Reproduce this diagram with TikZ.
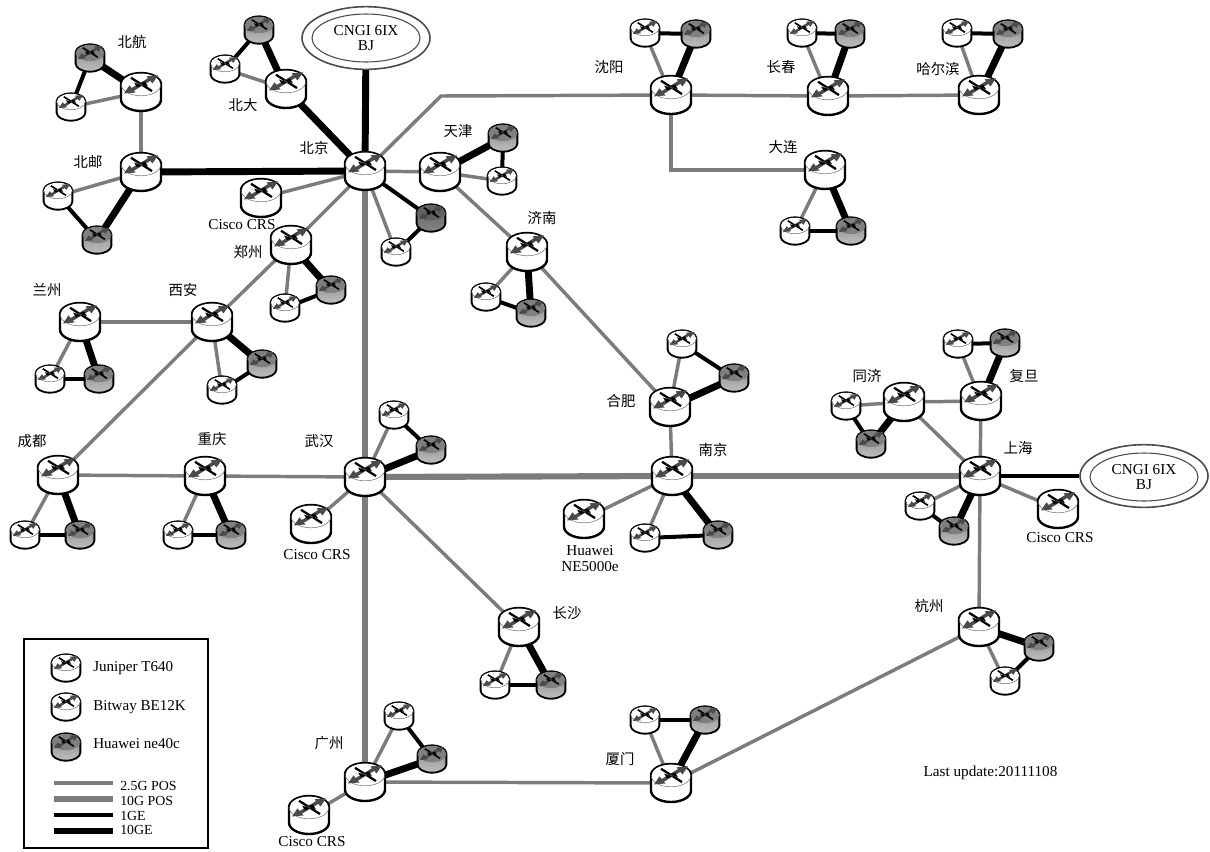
\documentclass[tikz,border=0pt]{standalone}
\usepackage{fontspec}
\setmainfont{Liberation Serif}
\newfontfamily\cjk{Noto Sans CJK SC}
\usetikzlibrary{arrows.meta,backgrounds,shapes.geometric}
\definecolor{linegray}{HTML}{7C7C7C}
\definecolor{arrowdark}{HTML}{4A4A4A}
\tikzset{
  pos25/.style={draw=linegray,line width=2.6pt},
  pos10/.style={draw=linegray,line width=4.6pt},
  ge1/.style={draw=black,line width=3pt},
  ge10/.style={draw=black,line width=5.2pt},
  lab/.style={inner sep=0pt,font=\cjk\fontsize{10.8}{13}\selectfont},
  eng/.style={inner sep=0pt,align=center,font=\fontsize{11.4}{12}\selectfont},
  leg/.style={inner sep=0pt,anchor=west,font=\fontsize{11.3}{12}\selectfont},
  legb/.style={inner sep=0pt,anchor=west,font=\fontsize{10.4}{11}\selectfont},
  outerell/.style={ellipse,draw=black!70,line width=1.2pt,fill=white,inner sep=0pt},
  innerell/.style={ellipse,draw=black!70,line width=.8pt,inner sep=0pt,minimum width=81pt,minimum height=36pt,font=\fontsize{11.4}{11.5}\selectfont,align=center},
}
% name x y scale topcolor bodytop bodybottom
\newcommand{\rtr}[7]{%
  \pgfmathsetmacro{\rs}{#4}%
  \pgfmathsetmacro{\rd}{27.5*\rs}%
  \pgfmathsetmacro{\rsy}{#4*0.95}%
  \node[circle,inner sep=0pt,minimum size=\rd pt] (#1) at (#2,#3) {};
  \begin{scope}[shift={(#2,#3)},xscale=#4,yscale=\rsy]
    \path[draw=black,line width=\rs*1.5pt+.3pt,top color=#6,bottom color=#7]
      (-20,-8) -- (-20,8) arc[start angle=180,end angle=360,x radius=20,y radius=-12] -- (20,-8)
      arc[start angle=0,end angle=180,x radius=20,y radius=-12] -- cycle;
    \fill[#5] (0,-8) ellipse[x radius=19.4,y radius=11.4];
    \draw[black!55,line width=.4pt] (-20,-8) arc[start angle=180,end angle=360,x radius=20,y radius=-12];
    \draw[black,line width=\rs*1.7pt] (-10,-15) -- (11,-1);
    \draw[arrowdark,line width=\rs*2.6pt] (11,-15) -- (-11,-1);
    \fill[arrowdark] (17,-17.5) -- (5.5,-16.5) -- (11.5,-9) -- cycle;
    \fill[arrowdark] (-17,1.5) -- (-5.5,.5) -- (-11.5,-7) -- cycle;
    \fill[black] (1,-7) -- (-7,-10) -- (-4,-5) -- cycle;
    \fill[black] (-1,-9) -- (7,-6) -- (4,-11) -- cycle;
  \end{scope}}
\newcommand{\rbig}[3]{\rtr{#1}{#2}{#3}{1}{white}{white}{white}}
\newcommand{\wht}[3]{\rtr{#1}{#2}{#3}{0.72}{white}{white}{white}}
\newcommand{\gry}[3]{\rtr{#1}{#2}{#3}{0.72}{black!50}{black!48}{black!25}}
\newcommand{\dgr}[3]{\rtr{#1}{#2}{#3}{0.72}{black!62}{black!62}{black!48}}
\begin{document}
\begin{tikzpicture}[x=0.75pt,y=-0.75pt]
\useasboundingbox (0,0) rectangle (1210,851);
% ---- clouds
\node[outerell,minimum width=96pt,minimum height=47pt] (cngiN) at (366,38) {};
\node[innerell] (cngiNin) at (366,38) {CNGI 6IX\\BJ};
\node[outerell,minimum width=96pt,minimum height=47pt] (cngiE) at (1144,476) {};
\node[innerell] (cngiEin) at (1144,477) {CNGI 6IX\\BJ};
% ---- routers
\rbig{bj}{365}{171} \rbig{pku}{286}{89} \wht{pkua}{225}{69} \gry{pkub}{259}{30}
\rbig{bh}{141}{92} \gry{bhb}{90}{58} \wht{bha}{71}{107}
\rbig{by}{141}{172} \wht{bya}{58}{196} \gry{byb}{97}{240}
\rbig{ciscoN}{261}{198}
\rbig{zz}{291}{245} \wht{zza}{285}{308} \gry{zzb}{331}{290}
\dgr{bjb}{431}{218} \wht{bja}{396}{252}
\rbig{tj}{440}{172} \gry{tjb}{503}{138} \wht{tja}{502}{181}
\rbig{jn}{527}{252} \wht{jna}{486}{297} \gry{jnb}{531}{313}
\rbig{sy}{671}{95} \wht{sya}{645}{33} \gry{syb}{696}{34}
\rbig{cc}{828}{96} \wht{cca}{802}{33} \gry{ccb}{850}{34}
\rbig{hb}{979}{95} \wht{hba}{957}{33} \gry{hbb}{1008}{34}
\rbig{dl}{825}{170} \wht{dla}{795}{231} \gry{dlb}{851}{231}
\rbig{xa}{212}{322} \wht{xaa}{222}{390} \gry{xab}{262}{364}
\rbig{lz}{80}{322} \wht{lza}{50}{379} \gry{lzb}{99}{379}
\rbig{cd}{58}{475} \wht{cda}{25}{535} \gry{cdb}{80}{535}
\rbig{cq}{205}{476} \wht{cqa}{178}{535} \gry{cqb}{231}{535}
\rbig{wh}{365}{477} \wht{wha}{394}{415} \gry{whb}{431}{450} \rbig{ciscoW}{311}{524}
\rbig{hf}{670}{407} \wht{hfa}{682}{344} \gry{hfb}{734}{378}
\rbig{nj}{672}{476} \rbig{huawei}{584}{519} \wht{nja}{645}{538} \gry{njb}{718}{535}
\rbig{sh}{980}{476} \rbig{ciscoE}{1058}{509} \wht{sha}{920}{506} \gry{shb}{954}{531}
\rbig{tjg}{904}{402} \wht{tjga}{846}{406} \gry{tjgb}{871}{444}
\rbig{fd}{981}{401} \wht{fda}{958}{344} \gry{fdb}{1005}{343}
\rbig{hz}{979}{627} \gry{hzb}{1039}{647} \wht{hza}{1005}{681}
\rbig{cs}{519}{627} \wht{csa}{495}{685} \gry{csb}{551}{685}
\rbig{gz}{365}{782} \rbig{ciscoS}{309}{815} \wht{gza}{399}{716} \gry{gzb}{432}{759}
\rbig{xm}{671}{783} \wht{xma}{645}{720} \gry{xmb}{705}{720}
% ---- legend routers
\wht{legA}{66}{668} \wht{legB}{66}{707} \gry{legC}{66}{747}
% ---- helper coordinates
\coordinate (bendN) at (441,96);
\coordinate (bendD) at (671,170);
\coordinate (l1a) at (54,783); \coordinate (l1b) at (113,783);
\coordinate (l2a) at (54,799); \coordinate (l2b) at (113,799);
\coordinate (l3a) at (54,815); \coordinate (l3b) at (113,815);
\coordinate (l4a) at (54,831); \coordinate (l4b) at (113,831);
% ---- connectors
\begin{scope}[on background layer]
\draw[ge10] (bj) -- (cngiN); \draw[ge10] (bj) -- (pku); \draw[ge10] (bj) -- (by);
\draw[pos25] (bj) -- (ciscoN); \draw[pos25] (bj) -- (zz); \draw[pos10] (bj) -- (wh);
\draw[pos25] (bj) -- (bja); \draw[ge1] (bj) -- (bjb); \draw[ge1] (bja) -- (bjb);
\draw[pos25] (bj) -- (tj); \draw[pos25] (tj) -- (jn);
\draw[pos25] (bj) -- (bendN) -- (sy); \draw[pos25] (sy) -- (cc); \draw[pos25] (cc) -- (hb);
\draw[pos25] (sy) -- (bendD) -- (dl);
\draw[pos25] (by) -- (bh);
\draw[pos25] (jn) -- (hf); \draw[pos25] (hf) -- (nj);
\draw[pos25] (zz) -- (xa); \draw[pos25] (xa) -- (lz); \draw[pos25] (xa) -- (cd);
\draw[pos25] (cd) -- (cq); \draw[pos25] (cq) -- (wh);
\draw[pos10] (wh) -- (nj); \draw[pos10] (nj) -- (sh); \draw[pos10] (wh) -- (gz);
\draw[pos25] (wh) -- (ciscoW); \draw[pos25] (wh) -- (cs);
\draw[pos25] (nj) -- (huawei);
\draw[pos25] (sh) -- (fd); \draw[pos25] (sh) -- (tjg); \draw[pos25] (tjg) -- (fd);
\draw[pos25] (sh) -- (hz); \draw[pos25] (sh) -- (ciscoE); \draw[ge1] (sh) -- (cngiE);
\draw[pos25] (hz) -- (xm); \draw[pos25] (gz) -- (xm); \draw[pos25] (gz) -- (ciscoS);
% triads
\foreach \m/\a/\b in {pku/pkua/pkub,bh/bha/bhb,by/bya/byb,zz/zza/zzb,tj/tja/tjb,jn/jna/jnb,sy/sya/syb,cc/cca/ccb,hb/hba/hbb,dl/dla/dlb,xa/xaa/xab,lz/lza/lzb,cd/cda/cdb,cq/cqa/cqb,wh/wha/whb,hf/hfa/hfb,nj/nja/njb,sh/sha/shb,tjg/tjga/tjgb,fd/fda/fdb,hz/hza/hzb,cs/csa/csb,gz/gza/gzb,xm/xma/xmb}{
  \draw[pos25] (\m) -- (\a);
  \draw[ge10] (\m) -- (\b);
  \draw[ge1] (\a) -- (\b);
}
\end{scope}
% ---- labels
\node[lab] (t1) at (132,42) {北航};
\node[lab] (t2) at (88,162) {北邮};
\node[lab] (t3) at (243,105) {北大};
\node[lab] (t4) at (314,148) {北京};
\node[lab] (t5) at (458,131) {天津};
\node[lab] (t6) at (542,218) {济南};
\node[lab] (t7) at (609,67) {沈阳};
\node[lab] (t8) at (781,67) {长春};
\node[lab] (t9) at (938,69) {哈尔滨};
\node[lab] (t10) at (783,147) {大连};
\node[lab] (t11) at (248,252) {郑州};
\node[lab] (t12) at (47,290) {兰州};
\node[lab] (t13) at (183,290) {西安};
\node[lab] (t14) at (32,441) {成都};
\node[lab] (t15) at (212,439) {重庆};
\node[lab] (t16) at (319,441) {武汉};
\node[lab] (t17) at (621,401) {合肥};
\node[lab] (t18) at (713,450) {南京};
\node[lab] (t19) at (867,376) {同济};
\node[lab] (t20) at (1024,376) {复旦};
\node[lab] (t21) at (1018,448) {上海};
\node[lab] (t22) at (929,606) {杭州};
\node[lab] (t23) at (567,613) {长沙};
\node[lab] (t24) at (329,743) {广州};
\node[lab] (t25) at (620,759) {厦门};
\node[eng] (e1) at (242,225) {Cisco CRS};
\node[eng] (e2) at (317,555) {Cisco CRS};
\node[eng] (e3) at (1060,538) {Cisco CRS};
\node[eng] (e4) at (312,842) {Cisco CRS};
\node[eng] (e5) at (590,559) {Huawei\\NE5000e};
\node[eng] (e6) at (990.5,773) {Last update:20111108};
% ---- legend
\node[draw=black,line width=1pt,inner sep=0pt,minimum width=138pt,minimum height=156.75pt] (legbox) at (116,743.5) {};
\node[leg] (lt1) at (93,668) {Juniper T640};
\node[leg] (lt2) at (93,707) {Bitway BE12K};
\node[leg] (lt3) at (93,744) {Huawei ne40c};
\node[legb] (lt4) at (120,786) {2.5G POS};
\node[legb] (lt5) at (120,801) {10G POS};
\node[legb] (lt6) at (120,816) {1GE};
\node[legb] (lt7) at (120,830) {10GE};
\draw[pos25] (l1a) -- (l1b);
\draw[pos10] (l2a) -- (l2b);
\draw[ge1] (l3a) -- (l3b);
\draw[ge10] (l4a) -- (l4b);
\end{tikzpicture}
\end{document}
